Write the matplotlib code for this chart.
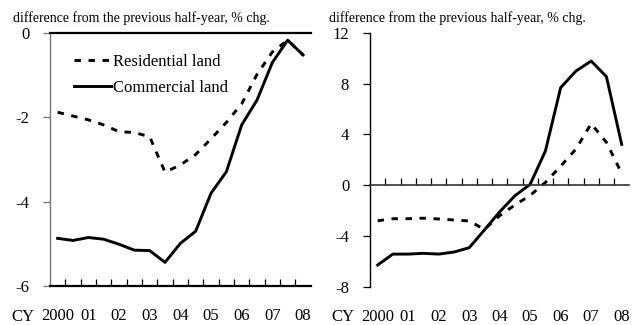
import matplotlib
matplotlib.use("Agg")
import matplotlib.pyplot as plt
import numpy as np
from matplotlib.ticker import FixedLocator, NullFormatter

plt.rcParams["font.family"] = ["Liberation Serif", "DejaVu Serif"]

# half-year periods, 2000 H1 .. 2008 H1
periods = list(range(17))
year_labels = ["2000", "01", "02", "03", "04", "05", "06", "07", "08"]

# left panel values, % chg.
res_left = [-1.88, -1.97, -2.06, -2.18, -2.34, -2.36, -2.46, -3.30, -3.13,
            -2.88, -2.51, -2.12, -1.68, -0.98, -0.45, -0.17, -0.52]
com_left = [-4.87, -4.92, -4.85, -4.89, -5.01, -5.15, -5.16, -5.44, -4.99,
            -4.70, -3.80, -3.29, -2.18, -1.59, -0.70, -0.17, -0.52]

# right panel values, % chg.
res_right = [-2.80, -2.64, -2.64, -2.60, -2.66, -2.74, -2.82, -3.48, -2.40,
             -1.56, -0.80, 0.22, 1.50, 2.85, 4.85, 3.38, 0.94]
com_right = [-6.29, -5.43, -5.43, -5.37, -5.43, -5.27, -4.93, -3.53, -2.10,
             -0.83, 0.07, 2.70, 7.69, 9.00, 9.79, 8.56, 3.22]

title = "difference from the previous half-year, % chg."
W, H = 639, 325

fig = plt.figure(figsize=(W / 100, H / 100), dpi=100)
ax1 = fig.add_axes([50 / W, 1 - 286 / H, 260.7 / W, 253 / H])
ax2 = fig.add_axes([370 / W, 1 - 286.7 / H, 259.3 / W, 253.7 / H])

dash = (0, (2.2, 2.6))
lw = 2.1


def style_x(ax):
    ax.set_xlim(-0.5, 16.5)
    ax.xaxis.set_major_locator(FixedLocator([]))
    ax.xaxis.set_minor_locator(FixedLocator(np.arange(0.5, 16.5, 1.0)))
    ax.xaxis.set_minor_formatter(NullFormatter())
    ax.tick_params(axis="x", which="minor", direction="in", length=5,
                   width=0.9, color="black")
    sec = ax.secondary_xaxis(0)
    sec.set_xticks(periods[::2])
    sec.set_xticklabels(year_labels)
    sec.tick_params(length=0, pad=16, labelsize=12)
    sec.spines["bottom"].set_visible(False)


# ---- left panel
ax1.plot(periods, res_left, color="black", lw=lw, linestyle=dash,
         label="Residential land")
ax1.plot(periods, com_left, color="black", lw=lw, label="Commercial land")
ax1.set_ylim(-6, 0)
ax1.set_yticks([0, -2, -4, -6])
ax1.set_yticklabels(["0", "-2", "-4", "-6"])
ax1.tick_params(axis="y", length=5, width=0.9, color="#777777",
                labelsize=12, pad=10)
ax1.spines["right"].set_visible(False)
ax1.spines["left"].set_color("#777777")
ax1.spines["left"].set_linewidth(1.0)
ax1.spines["top"].set_linewidth(1.6)
ax1.spines["bottom"].set_linewidth(1.6)
style_x(ax1)
ax1.legend(loc="upper left", bbox_to_anchor=(0.035, 0.975), frameon=False,
           fontsize=12, handlelength=2.2, handletextpad=0.15,
           labelspacing=0.6)

# ---- right panel
ax2.plot(periods, res_right, color="black", lw=lw, linestyle=dash)
ax2.plot(periods, com_right, color="black", lw=lw)
ax2.set_ylim(-8, 12)
ax2.set_yticks([12, 8, 4, 0, -4, -8])
ax2.set_yticklabels(["12", "8", "4", "0", "-4", "-8"])
ax2.tick_params(axis="y", length=5, width=0.9, labelsize=12, pad=10)
ax2.spines["right"].set_visible(False)
ax2.spines["top"].set_visible(False)
ax2.spines["left"].set_linewidth(1.0)
ax2.spines["bottom"].set_position(("data", 0))
ax2.spines["bottom"].set_linewidth(1.2)
ax2.spines["bottom"].set_color("#333333")
style_x(ax2)

for tx in (13, 329):
    fig.text(tx / W, 1 - 22 / H, title, fontsize=10, va="baseline",
             ha="left")
for cx in (35, 354):
    fig.text(cx / W, 1 - 317 / H, "CY", fontsize=12, ha="right",
             va="center")

fig.savefig("out.png", dpi=100)
